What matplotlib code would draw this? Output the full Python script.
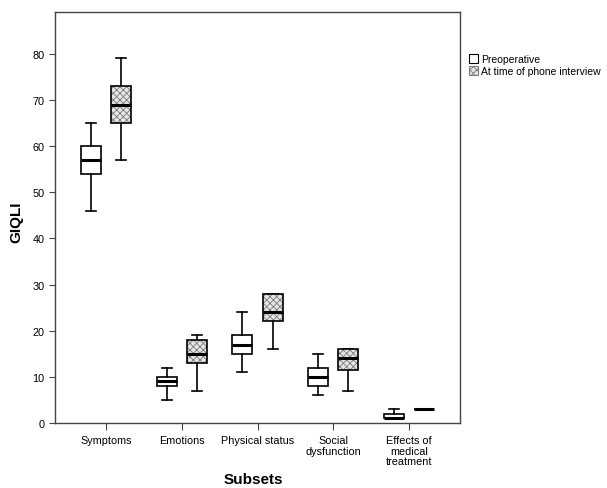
import matplotlib
matplotlib.use("Agg")
import matplotlib.pyplot as plt
from matplotlib.patches import Patch, PathPatch

plt.rcParams['font.family'] = ['Liberation Sans', 'DejaVu Sans']
plt.rcParams['hatch.linewidth'] = 0.6

categories = ["Symptoms", "Emotions", "Physical status", "Social\ndysfunction",
              "Effects of\nmedical\ntreatment"]

# five-number summaries: low whisker, q1, median, q3, high whisker
pre_lo = [46, 5, 11, 6, 1]
pre_q1 = [54, 8, 15, 8, 1]
pre_med = [57, 9, 17, 10, 1]
pre_q3 = [60, 10, 19, 12, 2]
pre_hi = [65, 12, 24, 15, 3]

post_lo = [57, 7, 16, 7, 3]
post_q1 = [65, 13, 22, 11.5, 3]
post_med = [69, 15, 24, 14, 3]
post_q3 = [73, 18, 28, 16, 3]
post_hi = [79, 19, 28, 16, 3]

series_labels = ["Preoperative", "At time of phone interview"]


def make_stats(lo, q1, med, q3, hi):
    return [dict(whislo=a, q1=b, med=c, q3=d, whishi=e, fliers=[])
            for a, b, c, d, e in zip(lo, q1, med, q3, hi)]


fig = plt.figure(figsize=(6.07, 4.89), dpi=100)
ax = fig.add_axes([0.0906, 0.133, 0.667, 0.840])

pos = list(range(len(categories)))
off = 0.2
w = 0.264

box_kw = dict(showfliers=False, widths=w, patch_artist=True,
              boxprops=dict(facecolor='white', edgecolor='black', linewidth=1.2),
              whiskerprops=dict(color='black', linewidth=1.2),
              capprops=dict(color='black', linewidth=1.2),
              medianprops=dict(color='black', linewidth=2.2))

pre = ax.bxp(make_stats(pre_lo, pre_q1, pre_med, pre_q3, pre_hi),
             positions=[p - off for p in pos], **box_kw)
post = ax.bxp(make_stats(post_lo, post_q1, post_med, post_q3, post_hi),
              positions=[p + off for p in pos], **box_kw)

# grey crosshatch fill under the post boxes
for b in post['boxes']:
    ax.add_patch(PathPatch(b.get_path(), facecolor='#e6e6e6', edgecolor='#7a7a7a',
                           linewidth=0, hatch='xxxxx', zorder=b.get_zorder() + 0.1))
    b.set_facecolor('none')
    b.set_zorder(b.get_zorder() + 0.2)
for m in post['medians']:
    m.set_zorder(m.get_zorder() + 0.3)

ax.set_xlim(-0.673, 4.67)
ax.set_ylim(0, 89)
ax.set_yticks(range(0, 81, 10))
ax.set_xticks(pos)
ax.set_xticklabels(categories, fontsize=7.8, linespacing=1.1)
ax.tick_params(axis='y', labelsize=7.8, length=4, color='#444444')
ax.tick_params(axis='x', length=5, color='#444444')
for s in ax.spines.values():
    s.set_color('#444444')
    s.set_linewidth(1.0)

ax.set_ylabel("GIQLI", fontsize=11, fontweight='bold')
ax.yaxis.set_label_coords(-0.079, 0.49)
ax.set_xlabel("Subsets", fontsize=11, fontweight='bold')
ax.xaxis.set_label_coords(0.49, -0.12)

handles = [Patch(facecolor='white', edgecolor='black', linewidth=0.8),
           Patch(facecolor='#e6e6e6', edgecolor='#7a7a7a', linewidth=0.8, hatch='xxxxx')]
fig.legend(handles, series_labels, loc='upper left', bbox_to_anchor=(0.772, 0.887),
           frameon=False, fontsize=7.5, handlelength=0.9, handleheight=0.9,
           handletextpad=0.3, labelspacing=0.2, borderpad=0, borderaxespad=0)

fig.savefig("out.png", dpi=100)
